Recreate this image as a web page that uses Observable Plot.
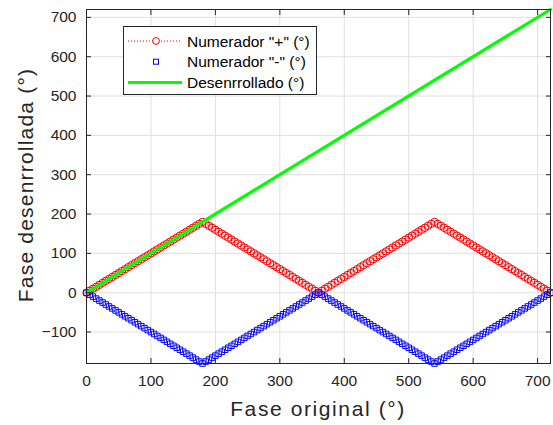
<!DOCTYPE html>
<html>
<head>
<meta charset="utf-8">
<script src="https://cdn.jsdelivr.net/npm/d3@7"></script>
<script src="https://cdn.jsdelivr.net/npm/@observablehq/plot@0.6"></script>
<style>
  html, body { margin: 0; padding: 0; background: #fff; }
  #wrap { position: relative; width: 553px; height: 425px; font-family: "Liberation Sans", Arial, sans-serif; }
  #legend { position: absolute; left: 123px; top: 26px; width: 192px; height: 67px; border: 1px solid #262626; background: #fff; }
</style>
</head>
<body>
<div id="wrap"></div>
<script>
// Fase original (°)
const fase = [0,5,10,15,20,25,30,35,40,45,50,55,60,65,70,75,80,85,90,95,100,105,110,115,120,125,130,135,140,145,150,155,160,165,170,175,180,185,190,195,200,205,210,215,220,225,230,235,240,245,250,255,260,265,270,275,280,285,290,295,300,305,310,315,320,325,330,335,340,345,350,355,360,365,370,375,380,385,390,395,400,405,410,415,420,425,430,435,440,445,450,455,460,465,470,475,480,485,490,495,500,505,510,515,520,525,530,535,540,545,550,555,560,565,570,575,580,585,590,595,600,605,610,615,620,625,630,635,640,645,650,655,660,665,670,675,680,685,690,695,700,705,710,715,720];
// Numerador "+" (°)
const numPos = [0,5,10,15,20,25,30,35,40,45,50,55,60,65,70,75,80,85,90,95,100,105,110,115,120,125,130,135,140,145,150,155,160,165,170,175,180,
  175,170,165,160,155,150,145,140,135,130,125,120,115,110,105,100,95,90,85,80,75,70,65,60,55,50,45,40,35,30,25,20,15,10,5,0,
  5,10,15,20,25,30,35,40,45,50,55,60,65,70,75,80,85,90,95,100,105,110,115,120,125,130,135,140,145,150,155,160,165,170,175,180,
  175,170,165,160,155,150,145,140,135,130,125,120,115,110,105,100,95,90,85,80,75,70,65,60,55,50,45,40,35,30,25,20,15,10,5,0];
// Numerador "-" (°)
const numNeg = [0,-5,-10,-15,-20,-25,-30,-35,-40,-45,-50,-55,-60,-65,-70,-75,-80,-85,-90,-95,-100,-105,-110,-115,-120,-125,-130,-135,-140,-145,-150,-155,-160,-165,-170,-175,-180,
  -175,-170,-165,-160,-155,-150,-145,-140,-135,-130,-125,-120,-115,-110,-105,-100,-95,-90,-85,-80,-75,-70,-65,-60,-55,-50,-45,-40,-35,-30,-25,-20,-15,-10,-5,0,
  -5,-10,-15,-20,-25,-30,-35,-40,-45,-50,-55,-60,-65,-70,-75,-80,-85,-90,-95,-100,-105,-110,-115,-120,-125,-130,-135,-140,-145,-150,-155,-160,-165,-170,-175,-180,
  -175,-170,-165,-160,-155,-150,-145,-140,-135,-130,-125,-120,-115,-110,-105,-100,-95,-90,-85,-80,-75,-70,-65,-60,-55,-50,-45,-40,-35,-30,-25,-20,-15,-10,-5,0];
// Desenrrollado (°)
const desenrFase = [0, 720];
const desenr = [0, 720];

const xTicks = [0,100,200,300,400,500,600,700];
const yTicks = [-100,0,100,200,300,400,500,600,700];

const data = fase.map((f, i) => ({f, pos: numPos[i], neg: numNeg[i]}));
const green = desenrFase.map((f, i) => ({f, d: desenr[i]}));

const axisColor = "#262626";

const chart = Plot.plot({
  width: 553,
  height: 425,
  marginLeft: 86,
  marginRight: 3,
  marginTop: 9,
  marginBottom: 62,
  style: {fontFamily: '"Liberation Sans", Arial, sans-serif', fontSize: "15.5px", color: axisColor, background: "#fff"},
  x: {domain: [0, 720]},
  y: {domain: [-180, 720]},
  marks: [
    Plot.gridX(xTicks, {stroke: "#e0e0e0", strokeOpacity: 1}),
    Plot.gridY(yTicks, {stroke: "#e0e0e0", strokeOpacity: 1}),
    Plot.line(data, {x: "f", y: "pos", stroke: "#ff0000", strokeWidth: 1, strokeOpacity: 0.6, strokeDasharray: "1,2"}),
    Plot.dot(data, {x: "f", y: "pos", stroke: "#ff0000", fill: "none", r: 3.7, strokeWidth: 1}),
    Plot.dot(data, {x: "f", y: "neg", stroke: "#0000ff", fill: "none", symbol: "square", r: 3.1, strokeWidth: 1}),
    Plot.line(green, {x: "f", y: "d", stroke: "#00ff00", strokeWidth: 3.2}),
    Plot.frame({stroke: axisColor, strokeWidth: 1}),
    Plot.axisX(xTicks, {anchor: "bottom", tickSize: 0, tickPadding: 11, label: null, fill: axisColor, fontSize: 15.5}),
    Plot.axisX(xTicks, {anchor: "bottom", tickSize: -5, text: null, label: null, stroke: axisColor}),
    Plot.axisX(xTicks, {anchor: "top", tickSize: -5, text: null, label: null, stroke: axisColor}),
    Plot.axisY(yTicks, {anchor: "left", tickSize: 0, tickPadding: 10, label: null, fill: axisColor, fontSize: 15.5}),
    Plot.axisY(yTicks, {anchor: "left", tickSize: -5, text: null, label: null, stroke: axisColor}),
    Plot.axisY(yTicks, {anchor: "right", tickSize: -5, text: null, label: null, stroke: axisColor})
  ]
});

const wrap = document.getElementById("wrap");
wrap.appendChild(chart);

const svg = d3.select(chart);
svg.append("text")
  .attr("x", 318).attr("y", 416)
  .attr("text-anchor", "middle")
  .attr("font-size", 21)
  .attr("letter-spacing", "1.6px")
  .attr("fill", axisColor)
  .text("Fase original (°)");
svg.append("text")
  .attr("transform", "translate(33,185) rotate(-90)")
  .attr("text-anchor", "middle")
  .attr("font-size", 21)
  .attr("letter-spacing", "1.2px")
  .attr("fill", axisColor)
  .text("Fase desenrrollada (°)");

// Legend
const legendItems = [
  {label: 'Numerador "+" (°)', kind: "pos"},
  {label: 'Numerador "-" (°)', kind: "neg"},
  {label: "Desenrrollado (°)", kind: "green"}
];
const leg = document.createElement("div");
leg.id = "legend";
wrap.appendChild(leg);
const ls = d3.select(leg).append("svg").attr("width", 192).attr("height", 67);
legendItems.forEach((it, i) => {
  const y = 14 + i * 20.7;
  if (it.kind === "pos") {
    ls.append("line").attr("x1", 4).attr("x2", 58).attr("y1", y).attr("y2", y)
      .attr("stroke", "#ff0000").attr("stroke-dasharray", "1,2");
    ls.append("circle").attr("cx", 32).attr("cy", y).attr("r", 3.4)
      .attr("fill", "#fff").attr("stroke", "#ff0000");
  } else if (it.kind === "neg") {
    ls.append("rect").attr("x", 29.5).attr("y", y - 2.5).attr("width", 5).attr("height", 5)
      .attr("fill", "none").attr("stroke", "#0000ff");
  } else {
    ls.append("line").attr("x1", 4).attr("x2", 58).attr("y1", y).attr("y2", y)
      .attr("stroke", "#00ff00").attr("stroke-width", 3);
  }
  ls.append("text").attr("x", 63).attr("y", y + 5.5)
    .attr("font-size", 15.5).attr("fill", "#000")
    .attr("font-family", '"Liberation Sans", Arial, sans-serif')
    .text(it.label);
});
</script>
</body>
</html>
